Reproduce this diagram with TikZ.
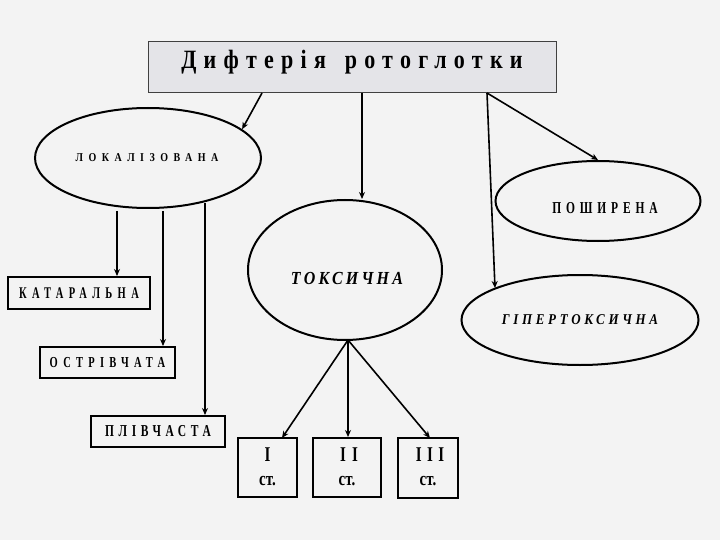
\documentclass[tikz,border=0pt]{standalone}
\usepackage{fontspec}
\usepackage{graphicx}
\setmainfont{Liberation Serif}
\usetikzlibrary{shapes.geometric,arrows.meta,calc}
% #1 letter space, #2 size, #3 vertical stretch, #4 text
\newcommand{\lsp}[4]{\scalebox{1}[#3]{\fontsize{#2}{#2}\selectfont\addfontfeatures{LetterSpace=#1}\bfseries #4}}
\newcommand{\lspi}[4]{\scalebox{1}[#3]{\fontsize{#2}{#2}\selectfont\addfontfeatures{LetterSpace=#1}\bfseries\itshape #4}}
\definecolor{bgc}{HTML}{F3F3F3}
\definecolor{titlefill}{HTML}{E4E4E8}
\tikzset{
  oval/.style={ellipse, draw=black, line width=2pt, inner sep=0pt},
  rbox/.style={rectangle, draw=black, line width=2pt, inner sep=0pt},
  conn/.style={line width=1.6pt, -{Stealth[length=7pt,width=6pt]}},
  lbl/.style={inner sep=0pt},
}
\begin{document}
\begin{tikzpicture}[x=1pt,y=-1pt]
\useasboundingbox[fill=bgc] (0,0) rectangle (720,540);
% title
\node[rectangle, draw=black!75, line width=1pt, fill=titlefill, minimum width=408pt, minimum height=51pt, inner sep=0pt] (title) at (352,67.5) {};
\node (tt) at (352,62) {\lsp{33}{22}{1.2}{Дифтерія\hspace{6pt} ротоглотки}};
% ellipses
\node[oval, minimum width=226pt, minimum height=100pt] (lok) at (148,158) {};
\node (lokt) at (147,158) {\lsp{55}{10}{1.2}{ЛОКАЛІЗОВАНА}};
\node[oval, minimum width=194pt, minimum height=140pt] (tox) at (345,270) {};
\node (toxt) at (347,278) {\lspi{20}{16}{1.15}{ТОКСИЧНА}};
\node[oval, minimum width=205pt, minimum height=80pt] (posh) at (598,201) {};
\node (posht) at (605,208) {\lsp{42}{11.5}{1.45}{ПОШИРЕНА}};
\node[oval, minimum width=237pt, minimum height=90pt] (hyp) at (580,320) {};
\node (hypt) at (580,320) {\lspi{28}{13}{1.15}{ГІПЕРТОКСИЧНА}};
% boxes
\node[rbox, minimum width=142pt, minimum height=32pt] (kat) at (79,293) {\lsp{51}{10.5}{1.55}{КАТАРАЛЬНА}};
\node[rbox, minimum width=135pt, minimum height=31pt] (ost) at (107.5,362.5) {\lsp{50}{10.5}{1.45}{ОСТРІВЧАТА}};
\node[rbox, minimum width=134pt, minimum height=31pt] (pliv) at (158,431.5) {\lsp{40}{11.5}{1.45}{ПЛІВЧАСТА}};
\node[rbox, minimum width=59pt, minimum height=59pt] (s1) at (267.5,467.5) {};
\node[rbox, minimum width=68pt, minimum height=59pt] (s2) at (347,467.5) {};
\node[rbox, minimum width=60pt, minimum height=60pt] (s3) at (428,468) {};
\node[lbl] (s1a) at (267.5,455) {\lsp{0}{15}{1.4}{I}};
\node[lbl] (s1b) at (267.5,481) {\lsp{0}{15}{1.3}{ст.}};
\node[lbl] (s2a) at (349,455) {\lsp{42}{15}{1.4}{II}};
\node[lbl] (s2b) at (347,481) {\lsp{0}{15}{1.3}{ст.}};
\node[lbl] (s3a) at (430,455) {\lsp{36}{15}{1.4}{III}};
\node[lbl] (s3b) at (428,481) {\lsp{0}{15}{1.3}{ст.}};
% connectors from title
\coordinate (t1) at (262,93);
\coordinate (t2) at (362,93);
\coordinate (t3) at (487,93);
\coordinate (h1) at (495,288);
\draw[conn] (t1) -- (lok.17);
\draw[conn] (t2) -- (t2 |- tox.north);
\draw[conn] (t3) -- (posh.north);
\draw[conn] (t3) -- (h1);
% connectors from lok
\coordinate (l1) at (117,211);
\coordinate (l2) at (163,211);
\coordinate (l3) at (205,203);
\draw[conn] (l1) -- (l1 |- kat.north);
\draw[conn] (l2) -- (l2 |- ost.north);
\draw[conn] (l3) -- (l3 |- pliv.north);
% connectors from tox
\coordinate (tb) at (348,340);
\coordinate (e1) at (282,438);
\coordinate (e3) at (430,438);
\draw[conn] (tb) -- (e1);
\draw[conn] (tb) -- (tb |- s2.north);
\draw[conn] (tb) -- (e3);
\end{tikzpicture}
\end{document}
